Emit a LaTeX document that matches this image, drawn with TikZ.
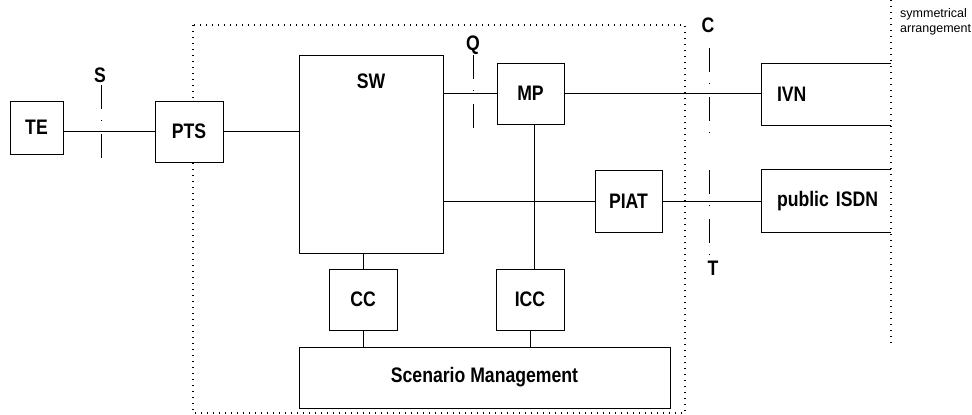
\documentclass[tikz,border=0pt]{standalone}
\usepackage{fontspec}
\setmainfont{Liberation Sans}
\newfontfamily\narrowfont{Liberation Sans}[FakeStretch=0.84]
\usetikzlibrary{calc}

\begin{document}
\begin{tikzpicture}[x=1pt, y=-1pt,
        boxfont/.style={font=\narrowfont\bfseries\fontsize{21}{25}\selectfont},
        box/.style={draw, line width=0.9pt, fill=white, inner sep=0pt, boxfont},
        unit/.style={box, minimum width=68pt, minimum height=61pt},
        openbox/.style={inner sep=0pt, text width=129pt, align=left, minimum height=61pt,
            execute at begin node=\hspace*{15pt}, boxfont},
        lbl/.style={inner sep=1pt, boxfont},
        note/.style={inner sep=0pt, align=left, font=\fontsize{12.5}{15.5}\selectfont},
        link/.style={line width=0.9pt},
        refline/.style={line width=0.9pt, dash pattern=on 24pt off 11pt on 1pt off 13pt},
        frameline/.style={line width=1.1pt, dash pattern=on 1.2pt off 4.8pt}]
        \useasboundingbox (0,0) rectangle (972,415);

        % private network frame and symmetrical arrangement
        \coordinate (F1) at (193,25);
        \coordinate (F2) at (685,413);
        \coordinate (M1) at (891,0);
        \coordinate (M2) at (891,347);
        \draw[frameline] (F1) rectangle (F2);
        \draw[frameline] (M1) -- (M2);
        \node[note, anchor=north west] (sym) at (900,8) {symmetrical\\arrangement};

        \node[box, minimum width=53pt, minimum height=53pt] (te) at (36.5,127.5) {TE};
        \node[unit] (pts) at (189,131.5) {PTS};
        \node[box, minimum width=144pt, minimum height=198pt] (sw) at (371,154) {};
        \node[lbl] (swlabel) at (371,81) {SW};
        \node[unit, minimum width=67pt] (mp) at (530.5,93.5) {MP};
        \node[unit, minimum width=67pt, minimum height=62pt] (piat) at (628.5,201) {PIAT};
        \node[unit] (cc) at (363,299.5) {CC};
        \node[unit] (icc) at (530,299.5) {ICC};
        \node[box, minimum width=371pt, minimum height=61pt] (sm) at (484.5,377.5) {Scenario Management};
        \node[openbox] (ivn) at (826.5,94.5) {IVN};
        \node[openbox, minimum height=62pt] (isdn) at (826.5,201) {public ISDN};
        \draw[link] (ivn.north east) -- (ivn.north west) -- (ivn.south west) -- (ivn.south east);
        \draw[link] (isdn.north east) -- (isdn.north west) -- (isdn.south west) -- (isdn.south east);

        \draw[link] (te.east |- pts.west) -- (pts.west);
        \draw[link] (pts.east) -- (pts.east -| sw.west);
        \draw[link] (sw.east |- mp.west) -- (mp.west);
        \draw[link] (mp.east) -- (mp.east -| ivn.west);
        \draw[link] (sw.east |- piat.west) -- (piat.west);
        \draw[link] (piat.east) -- (isdn.west);
        \draw[link] ([xshift=4pt]mp.south) -- ([xshift=4pt]mp.south |- icc.north);
        \draw[link] (cc.north |- sw.south) -- (cc.north);
        \draw[link] (cc.south) -- (cc.south |- sm.north);
        \draw[link] (icc.south) -- (icc.south |- sm.north);

        % reference points
        \node[lbl] (s) at (100,75) {S};
        \node[lbl] (q) at (473,45) {Q};
        \node[lbl] (c) at (708,25) {C};
        \node[lbl] (t) at (713,268) {T};
        \coordinate (S0) at (101,85);
        \coordinate (S1) at (101,159);
        \coordinate (Q0) at (473,55);
        \coordinate (Q1) at (473,129);
        \coordinate (C0) at (709,48);
        \coordinate (C1) at (709,133);
        \coordinate (T0) at (709,170);
        \coordinate (T1) at (709,255);
        \draw[refline] (S0) -- (S1);
        \draw[refline] (Q0) -- (Q1);
        \draw[refline] (C0) -- (C1);
        \draw[refline] (T0) -- (T1);
\end{tikzpicture}
\end{document}
